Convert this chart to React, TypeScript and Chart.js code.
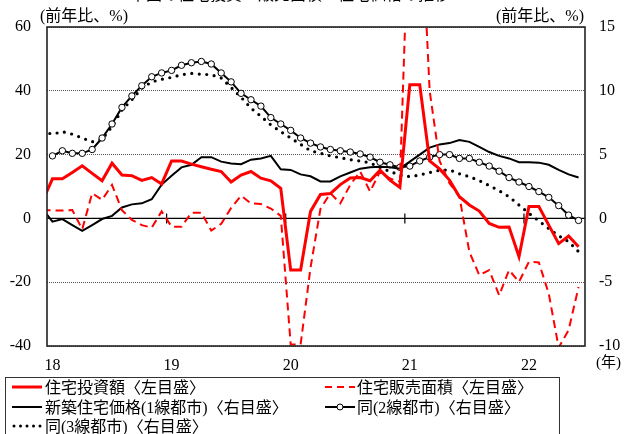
import React, { useEffect, useRef } from 'react';
import { Chart, registerables } from 'chart.js';

Chart.register(...registerables);

// Month positions: -1 = Dec 2017, 0 = Jan 2018 ... 53 = Jun 2022
const monthIndex: number[] = Array.from({ length: 55 }, (_, k) => k - 1);

const yearLabels = ['18', '19', '20', '21', '22'];
const yearLabelPos = [0, 12, 24, 36, 48];
const yearBoundaries = [11.5, 23.5, 35.5, 47.5];

const leftTicks = [60, 40, 20, 0, -20, -40];
const rightTicks = [15, 10, 5, 0, -5, -10];

// 住宅投資額（左目盛, %）
const housingInvestment = [
  5.4,
  12.4, 12.4, 14.4, 16.5, 14.1, 11.8, 17.3, 13.6, 13.4, 11.9, 12.8, 10.8,
  18.0, 18.0, 17.0, 16.2, 15.4, 14.7, 11.4, 13.6, 14.7, 12.6, 11.8, 9.4,
  -16.2, -16.2, 2.2, 7.5, 7.8, 10.6, 12.7, 12.8, 11.8, 15.1, 12.0, 9.7,
  41.9, 41.9, 18.0, 15.5, 12.0, 6.8, 4.2, 2.3, -1.6, -2.8, -2.7, -12.0,
  3.7, 3.7, -2.1, -7.9, -5.5, -8.9,
];

// 住宅販売面積（左目盛, %）
const housingSalesArea = [
  2.6,
  2.5, 2.5, 2.6, -3.4, 7.9, 5.8, 10.5, 2.6, -0.5, -2.1, -2.9, 2.2,
  -2.6, -2.6, 1.8, 1.8, -3.8, -1.7, 3.3, 7.1, 4.7, 4.5, 3.1, 0.8,
  -39.5, -39.5, -15.4, 3.0, 7.9, 4.7, 10.5, 14.7, 8.4, 14.7, 12.5, 11.5,
  105, 105, 40, 18, 11, 6.8, -10.5, -17.8, -16.2, -24.1, -16.2, -19.9,
  -13.6, -13.8, -23.6, -40.5, -35, -21.5,
];

// 新築住宅価格(1線都市)（右目盛, %）
const priceTier1 = [
  0.76,
  -0.26, -0.05, -0.52, -0.97, -0.52, -0.05, 0.2, 0.86, 1.1, 1.18, 1.5, 2.65,
  3.35, 4.0, 4.2, 4.8, 4.8, 4.45, 4.3, 4.25, 4.6, 4.7, 4.9, 3.85,
  3.8, 3.45, 3.3, 2.9, 2.9, 3.3, 3.6, 3.9, 4.0, 4.05, 4.0, 3.9,
  4.45, 5.0, 5.55, 5.8, 5.9, 6.15, 6.0, 5.6, 5.2, 4.9, 4.7, 4.4,
  4.4, 4.37, 4.2, 3.8, 3.45, 3.2,
];

// 同(2線都市)（右目盛, %）
const priceTier2 = [
  null,
  4.9, 5.3, 5.1, 5.1, 5.4, 6.3, 7.4, 8.7, 9.6, 10.4, 11.1, 11.4,
  11.6, 12.0, 12.2, 12.3, 12.1, 11.4, 10.7, 9.8, 9.3, 8.8, 7.9, 7.4,
  6.9, 6.3, 5.9, 5.6, 5.4, 5.3, 5.2, 5.05, 4.8, 4.4, 4.2, 4.0,
  4.1, 4.5, 4.8, 5.0, 5.0, 4.7, 4.7, 4.4, 4.1, 3.7, 3.2, 2.85,
  2.5, 2.1, 1.65, 1.0, 0.26, -0.16,
];

// 同(3線都市)（右目盛, %）
const priceTier3 = [
  6.8,
  6.6, 6.8, 6.6, 6.3, 6.0, 6.2, 7.2, 8.5, 9.3, 10.2, 10.7, 10.9,
  11.05, 11.26, 11.36, 11.3, 11.26, 11.0, 10.26, 9.5, 8.64, 8.0, 7.33, 6.8,
  6.3, 5.8, 5.3, 5.1, 4.9, 4.76, 4.6, 4.5, 4.35, 4.0, 3.67, 3.4,
  3.27, 3.4, 3.6, 3.77, 3.8, 3.5, 3.27, 2.96, 2.57, 2.17, 1.7, 1.05,
  0.4, -0.2, -0.8, -1.36, -1.83, -2.6,
];

const toPoints = (vals: (number | null)[]) =>
  monthIndex.map((x, k) => ({ x, y: vals[k] }));

const SERIF = "'Liberation Serif', 'Times New Roman', serif";
const MIXED = "'Liberation Serif', 'Noto Sans CJK JP', serif";

const framePlugin = {
  id: 'frame',
  beforeDatasetsDraw(chart: any) {
    const { ctx, chartArea } = chart;
    const y = chart.scales.y;
    const x = chart.scales.x;
    const y0 = y.getPixelForValue(0);
    ctx.save();
    ctx.strokeStyle = '#000';
    ctx.lineWidth = 1.2;
    ctx.setLineDash([]);
    ctx.beginPath();
    ctx.moveTo(chartArea.left, y0);
    ctx.lineTo(chartArea.right, y0);
    for (const b of yearBoundaries) {
      const px = x.getPixelForValue(b);
      ctx.moveTo(px, y0 - 5);
      ctx.lineTo(px, y0 + 5);
    }
    ctx.stroke();
    ctx.restore();
  },
  afterDatasetsDraw(chart: any) {
    const { ctx, chartArea } = chart;
    ctx.save();
    ctx.strokeStyle = '#222';
    ctx.lineWidth = 1.6;
    ctx.setLineDash([]);
    ctx.strokeRect(
      chartArea.left,
      chartArea.top,
      chartArea.right - chartArea.left,
      chartArea.bottom - chartArea.top
    );
    ctx.restore();
  },
};

function LegendSample({ kind }: { kind: string }) {
  return (
    <svg width={30} height={10} style={{ display: 'block' }}>
      {kind === 'redSolid' && <line x1={0} y1={5} x2={30} y2={5} stroke="#ff0000" strokeWidth={3} />}
      {kind === 'redDash' && (
        <line x1={0} y1={5} x2={30} y2={5} stroke="#ff0000" strokeWidth={2} strokeDasharray="7 5" />
      )}
      {kind === 'black' && <line x1={0} y1={5} x2={30} y2={5} stroke="#000" strokeWidth={2} />}
      {kind === 'circle' && (
        <g>
          <line x1={0} y1={5} x2={30} y2={5} stroke="#000" strokeWidth={2} />
          <circle cx={15} cy={5} r={3} fill="#fff" stroke="#000" strokeWidth={1} />
        </g>
      )}
      {kind === 'dot' && (
        <line x1={2} y1={5} x2={30} y2={5} stroke="#000" strokeWidth={3} strokeDasharray="0 6.5" strokeLinecap="round" />
      )}
    </svg>
  );
}

export default function App() {
  const canvasRef = useRef<HTMLCanvasElement | null>(null);

  useEffect(() => {
    if (!canvasRef.current) return;
    const tickFont = { family: SERIF, size: 16 };
    const chart = new Chart(canvasRef.current, {
      type: 'line',
      data: {
        datasets: [
          {
            label: '住宅投資額〈左目盛〉',
            data: toPoints(housingInvestment),
            yAxisID: 'y',
            borderColor: '#ff0000',
            borderWidth: 3,
            pointRadius: 0,
            tension: 0,
            clip: 0,
          },
          {
            label: '住宅販売面積〈左目盛〉',
            data: toPoints(housingSalesArea),
            yAxisID: 'y',
            borderColor: '#ff0000',
            borderWidth: 2,
            borderDash: [8, 5],
            pointRadius: 0,
            tension: 0,
            clip: 0,
          },
          {
            label: '新築住宅価格(1線都市)〈右目盛〉',
            data: toPoints(priceTier1),
            yAxisID: 'y1',
            borderColor: '#000',
            borderWidth: 2,
            pointRadius: 0,
            tension: 0,
            clip: 0,
          },
          {
            label: '同(2線都市)〈右目盛〉',
            data: toPoints(priceTier2),
            yAxisID: 'y1',
            borderColor: '#000',
            borderWidth: 2,
            pointRadius: 3.2,
            pointBackgroundColor: '#fff',
            pointBorderColor: '#000',
            pointBorderWidth: 1,
            tension: 0,
            clip: 0,
          },
          {
            label: '同(3線都市)〈右目盛〉',
            data: toPoints(priceTier3),
            yAxisID: 'y1',
            borderColor: '#000',
            borderWidth: 3.2,
            borderDash: [0, 7.5],
            borderCapStyle: 'round',
            pointRadius: 0,
            tension: 0,
            clip: 0,
          },
        ],
      },
      options: {
        animation: false,
        responsive: false,
        devicePixelRatio: 1,
        layout: { padding: { top: 27, left: 0, right: 0, bottom: 0 } },
        plugins: {
          legend: { display: false },
          tooltip: { enabled: false },
          title: { display: false },
        },
        scales: {
          x: {
            type: 'linear',
            min: -0.55,
            max: 53.65,
            afterBuildTicks: (scale: any) => {
              scale.ticks = yearLabelPos.map((v) => ({ value: v }));
            },
            afterFit: (scale: any) => {
              scale.height = 88;
            },
            ticks: {
              font: tickFont,
              color: '#000',
              padding: 10,
              maxRotation: 0,
              autoSkip: false,
              callback: (v: any) => {
                const k = yearLabelPos.indexOf(Number(v));
                return k >= 0 ? yearLabels[k] : '';
              },
            },
            grid: { display: false, drawTicks: false },
            border: { display: false },
          },
          y: {
            type: 'linear',
            position: 'left',
            min: -40,
            max: 60,
            afterBuildTicks: (scale: any) => {
              scale.ticks = leftTicks.map((v) => ({ value: v }));
            },
            afterFit: (scale: any) => {
              scale.width = 47;
            },
            ticks: { font: tickFont, color: '#000', padding: 16 },
            grid: { color: '#555', lineWidth: 1, drawTicks: false },
            border: { display: false, dash: [1, 1] },
          },
          y1: {
            type: 'linear',
            position: 'right',
            min: -10,
            max: 15,
            afterBuildTicks: (scale: any) => {
              scale.ticks = rightTicks.map((v) => ({ value: v }));
            },
            afterFit: (scale: any) => {
              scale.width = 42;
            },
            ticks: { font: tickFont, color: '#000', padding: 14 },
            grid: { display: false, drawTicks: false },
            border: { display: false },
          },
        },
      },
      plugins: [framePlugin],
    } as any);
    return () => chart.destroy();
  }, []);

  const textStyle: React.CSSProperties = {
    position: 'absolute',
    fontFamily: MIXED,
    fontSize: 16,
    lineHeight: '19px',
    color: '#000',
    whiteSpace: 'nowrap',
  };

  const rows = [
    { top: 378, left: 12, kind: 'redSolid', text: '住宅投資額〈左目盛〉', textLeft: 45 },
    { top: 378, left: 325, kind: 'redDash', text: '住宅販売面積〈左目盛〉', textLeft: 357 },
    { top: 398, left: 12, kind: 'black', text: '新築住宅価格(1線都市)〈右目盛〉', textLeft: 45 },
    { top: 398, left: 325, kind: 'circle', text: '同(2線都市)〈右目盛〉', textLeft: 357 },
    { top: 417, left: 12, kind: 'dot', text: '同(3線都市)〈右目盛〉', textLeft: 45 },
  ];

  return (
    <div
      style={{
        position: 'absolute',
        left: 0,
        top: 0,
        width: 627,
        height: 434,
        overflow: 'hidden',
        background: '#fff',
      }}
    >
      <canvas ref={canvasRef} width={627} height={434} style={{ position: 'absolute', left: 0, top: 0, width: 627, height: 434 }} />
      <div style={{ ...textStyle, top: -15, left: 130, fontSize: 16 }}>中国の住宅投資・販売面積・住宅価格の推移</div>
      <div style={{ ...textStyle, top: 6, left: 40 }}>(前年比、%)</div>
      <div style={{ ...textStyle, top: 6, left: 496 }}>(前年比、%)</div>
      <div style={{ ...textStyle, top: 353, left: 596, fontSize: 15 }}>(年)</div>
      <div
        style={{
          position: 'absolute',
          left: 5,
          top: 377,
          width: 555,
          height: 80,
          border: '1.5px solid #333',
          boxSizing: 'border-box',
        }}
      />
      {rows.map((r, k) => (
        <React.Fragment key={k}>
          <div style={{ position: 'absolute', left: r.left, top: r.top + 4 }}>
            <LegendSample kind={r.kind} />
          </div>
          <div style={{ ...textStyle, top: r.top, left: r.textLeft }}>{r.text}</div>
        </React.Fragment>
      ))}
    </div>
  );
}
